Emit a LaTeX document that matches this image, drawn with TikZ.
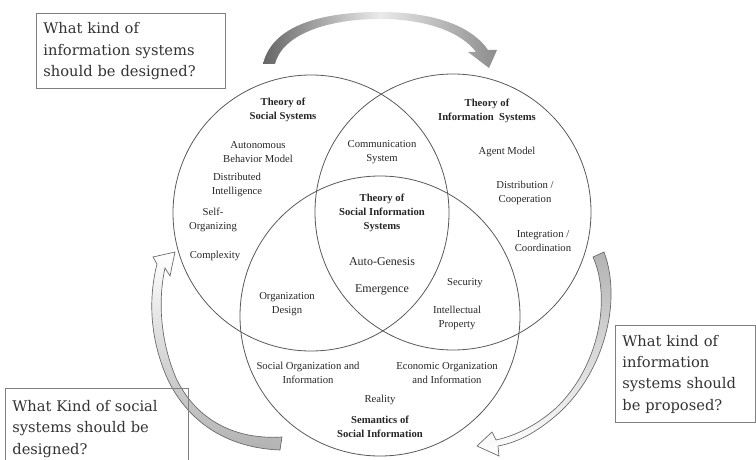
\documentclass[tikz,border=0pt]{standalone}
\usepackage{fontspec}
\setmainfont{Liberation Serif}
\newfontfamily\boxfont{DejaVu Serif}
\begin{document}
\begin{tikzpicture}[x=0.75pt,y=0.75pt,yscale=-1,xscale=1,
    lbl/.style={inner sep=0.75pt, align=center, text=black!85, font=\fontsize{8}{10.5}\selectfont},
    ttl/.style={lbl, font=\fontsize{8}{10.5}\selectfont\bfseries},
    qbox/.style={draw=black!50, line width=1.1pt, anchor=north west, align=left, inner xsep=5pt, inner ysep=3pt, text=black!80, font=\boxfont\fontsize{11}{16}\selectfont}]
        \useasboundingbox (0,0) rectangle (756,460);

        %Shape: Circle [id:social]
        \draw [black!65, line width=0.6pt] (311,213) circle [radius=138];
        %Shape: Circle [id:information]
        \draw [black!65, line width=0.6pt] (453,212) circle [radius=138];
        %Shape: Circle [id:semantics]
        \draw [black!65, line width=0.6pt] (380,316) circle [radius=140];

        %Curve Lines [id:toparrow]
        \shade [left color=black!60, right color=black!45, middle color=black!8]
            (275,64) .. controls (283,33) and (330,19) .. (380,19) .. controls (428,19) and (462,33) .. (476,52)
            -- (468,52) -- (489,68) -- (497,50) -- (488,50)
            .. controls (470,24) and (430,12) .. (380,12) .. controls (320,12) and (272,26) .. (263,64) -- cycle ;
        %Curve Lines [id:rightarrow]
        \shade [draw=black!60, line width=0.5pt, top color=black!30, bottom color=white]
            (604,252) .. controls (622,300) and (605,370) .. (560,412) .. controls (540,430) and (520,442) .. (498,446)
            -- (499,456) -- (477,446) -- (492,432) -- (496,440)
            .. controls (518,435) and (538,424) .. (556,408) .. controls (598,368) and (612,300) .. (593,257) -- cycle ;
        %Curve Lines [id:leftarrow]
        \shade [draw=black!60, line width=0.5pt, top color=white, bottom color=black!30]
            (280,450) .. controls (230,448) and (190,425) .. (168,380) .. controls (150,340) and (148,300) .. (157,264)
            -- (153,257) -- (175,252) -- (170,276) -- (165,268)
            .. controls (158,300) and (160,340) .. (176,378) .. controls (196,420) and (235,440) .. (282,437) -- cycle ;

        % Text Node
        \draw (283,110) node (tss) [ttl] {Theory of\\Social Systems};
        % Text Node
        \draw (258,152) node (autonomous) [lbl] {Autonomous\\Behavior Model};
        % Text Node
        \draw (237,185) node (distributed) [lbl] {Distributed\\Intelligence};
        % Text Node
        \draw (213,220) node (selforg) [lbl] {Self-\\Organizing};
        % Text Node
        \draw (215,256) node (complexity) [lbl] {Complexity};
        % Text Node
        \draw (382,152) node (communication) [lbl] {Communication\\System};
        % Text Node
        \draw (487,111) node (tis) [ttl] {Theory of\\Information\ \ Systems};
        % Text Node
        \draw (507,152) node (agent) [lbl] {Agent Model};
        % Text Node
        \draw (525,193) node (distcoop) [lbl] {Distribution /\\Cooperation};
        % Text Node
        \draw (543,241) node (integration) [lbl] {Integration /\\Coordination};
        % Text Node
        \draw (382,213) node (tsis) [ttl] {Theory of\\Social Information\\Systems};
        % Text Node
        \draw (382,262) node (autogenesis) [lbl, font=\fontsize{9}{11}\selectfont] {Auto-Genesis};
        % Text Node
        \draw (382,290) node (emergence) [lbl, font=\fontsize{9}{11}\selectfont] {Emergence};
        % Text Node
        \draw (465,283) node (security) [lbl] {Security};
        % Text Node
        \draw (457,318) node (intellectual) [lbl] {Intellectual\\Property};
        % Text Node
        \draw (287,304) node (orgdesign) [lbl] {Organization\\Design};
        % Text Node
        \draw (308,373) node (socorg) [lbl] {Social Organization and\\Information};
        % Text Node
        \draw (447,373) node (ecoorg) [lbl] {Economic Organization\\and Information};
        % Text Node
        \draw (380,400) node (reality) [lbl] {Reality};
        % Text Node
        \draw (380,427) node (semantics) [ttl] {Semantics of\\Social Information};

        % Text Node
        \draw (36,13) node (q1) [qbox, text width=131.75pt, minimum height=56.25pt] {What kind of\\information systems\\should be designed?};
        % Text Node
        \draw (5,388) node (q2) [qbox, text width=127.25pt, minimum height=60pt] {What Kind of social\\systems should be\\designed?};
        % Text Node
        \draw (615,325) node (q3) [qbox, text width=95pt, minimum height=72.75pt] {What kind of\\information\\systems should\\be proposed?};

\end{tikzpicture}
\end{document}
